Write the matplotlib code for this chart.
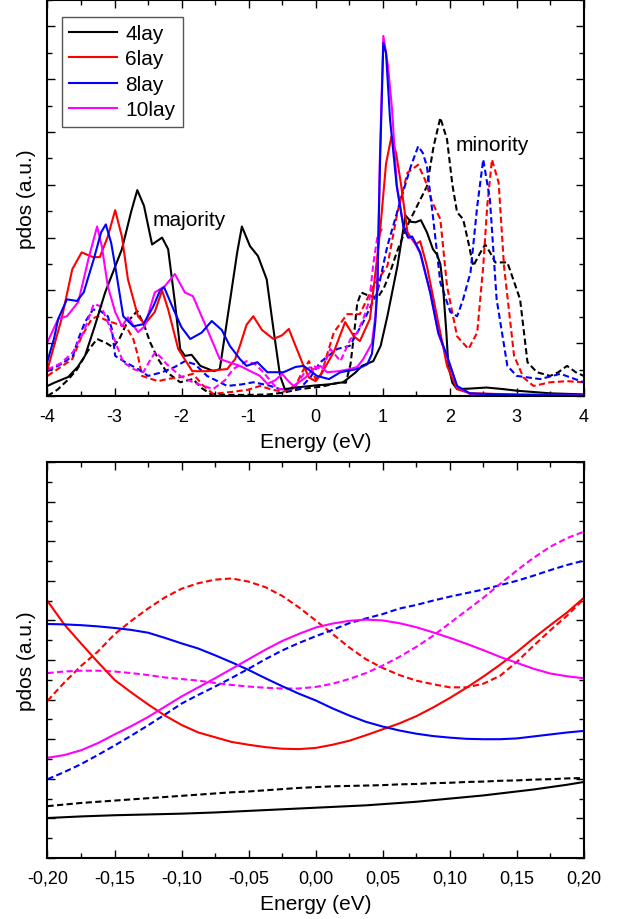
import numpy as np
import matplotlib
matplotlib.use("Agg")
import matplotlib.pyplot as plt
from matplotlib.ticker import MultipleLocator, FixedLocator

plt.rcParams['font.family'] = ['Liberation Sans', 'DejaVu Sans']

# --- full range pdos (majority = solid, minority = dashed) ---
e_4_maj = [-4.0, -3.9, -3.69, -3.55, -3.44, -3.3, -3.14, -2.89, -2.75, -2.66, -2.56, -2.44, -2.29, -2.2, -2.1,
           -2.02, -1.95, -1.85, -1.72, -1.52, -1.43, -1.28, -1.17, -1.10, -0.98, -0.86, -0.73, -0.63, -0.53,
           -0.46, -0.3, 0.0, 0.2, 0.41, 0.6, 0.69, 0.86, 0.97, 1.07, 1.22, 1.34, 1.42, 1.49, 1.57, 1.66, 1.75,
           1.81, 1.86, 1.90, 1.95, 1.98, 2.04, 2.11, 2.3, 2.55, 2.8, 3.0, 3.5, 4.0]
v_4_maj = [0.19, 0.25, 0.36, 0.55, 0.76, 1.3, 1.96, 2.78, 3.5, 3.9, 3.6, 2.87, 3.0, 2.78, 1.78,
           0.89, 0.76, 0.78, 0.57, 0.47, 0.51, 1.78, 2.72, 3.21, 2.84, 2.65, 2.21, 1.27, 0.38,
           0.13, 0.16, 0.2, 0.22, 0.26, 0.45, 0.57, 0.66, 0.95, 1.51, 2.46, 3.42, 3.3, 3.29, 3.33, 3.1, 2.78,
           2.68, 2.5, 2.08, 1.2, 0.57, 0.25, 0.13, 0.14, 0.16, 0.13, 0.1, 0.05, 0.03]

e_4_min = [-4.0, -3.85, -3.7, -3.56, -3.4, -3.26, -3.12, -3.02, -2.92, -2.81, -2.66, -2.56, -2.47, -2.35, -2.22,
           -2.02, -1.83, -1.7, -1.57, -1.3, -1.0, -0.7, -0.5, -0.23, 0.1, 0.37, 0.45, 0.52, 0.57, 0.62, 0.68,
           0.81, 0.93, 1.02, 1.11, 1.21, 1.36, 1.51, 1.66, 1.76, 1.86, 1.96, 2.04, 2.11, 2.2, 2.28, 2.35, 2.45,
           2.53, 2.61, 2.68, 2.86, 2.95, 3.05, 3.16, 3.3, 3.5, 3.62, 3.75, 3.88, 4.0]
v_4_min = [0.0, 0.12, 0.3, 0.5, 0.85, 1.08, 1.0, 0.92, 1.1, 1.4, 1.61, 1.35, 1.02, 0.7, 0.45,
           0.26, 0.32, 0.15, 0.04, 0.02, 0.02, 0.03, 0.06, 0.13, 0.18, 0.26, 0.25, 0.6, 1.13, 1.75, 1.96,
           1.89, 1.87, 2.05, 2.34, 2.72, 3.21, 3.59, 3.97, 4.73, 5.27, 4.86, 4.0, 3.48, 3.35, 2.9, 2.46, 2.7,
           2.87, 2.7, 2.53, 2.53, 2.2, 1.83, 0.64, 0.45, 0.38, 0.45, 0.57, 0.45, 0.38]

e_6_maj = [-4.0, -3.79, -3.63, -3.49, -3.32, -3.22, -3.1, -2.99, -2.89, -2.8, -2.65, -2.55, -2.4, -2.29, -2.2,
           -2.05, -1.84, -1.62, -1.32, -1.2, -1.13, -1.03, -0.93, -0.8, -0.63, -0.5, -0.40, -0.3, -0.18, -0.1,
           0.0, 0.1, 0.27, 0.44, 0.57, 0.66, 0.81, 0.88, 0.96, 1.05, 1.13, 1.2, 1.27, 1.37, 1.49, 1.56, 1.66,
           1.81, 1.96, 2.11, 2.3, 3.0, 4.0]
v_6_maj = [0.5, 1.46, 2.4, 2.72, 2.63, 2.63, 3.02, 3.52, 3.02, 2.21, 1.51, 1.36, 1.59, 2.0, 1.64,
           0.89, 0.47, 0.47, 0.51, 0.7, 0.95, 1.35, 1.51, 1.25, 1.08, 1.15, 1.27, 0.95, 0.57, 0.35,
           0.28, 0.45, 0.83, 1.4, 1.13, 1.04, 1.46, 2.2, 3.1, 4.4, 4.91, 4.6, 4.04, 3.1, 2.87, 2.93, 2.46,
           1.51, 0.57, 0.13, 0.05, 0.03, 0.02]

e_6_min = [-4.0, -3.8, -3.63, -3.49, -3.34, -3.25, -3.1, -2.95, -2.82, -2.72, -2.65, -2.59, -2.35, -2.22,
           -2.0, -1.83, -1.68, -1.53, -1.23, -1.0, -0.83, -0.65, -0.48, -0.3, -0.18, -0.1, 0.0, 0.08, 0.27,
           0.47, 0.66, 0.86, 1.07, 1.22, 1.37, 1.53, 1.63, 1.74, 1.86, 1.96, 2.11, 2.28, 2.41, 2.5, 2.56, 2.63,
           2.73, 2.81, 2.96, 3.1, 3.25, 3.5, 3.75, 4.0]
v_6_min = [0.38, 0.55, 0.70, 1.13, 1.46, 1.51, 1.42, 1.36, 1.3, 1.08, 0.76, 0.38, 0.28, 0.32,
           0.36, 0.42, 0.2, 0.04, 0.08, 0.12, 0.19, 0.12, 0.08, 0.2, 0.5, 0.66, 0.32, 0.4, 1.2,
           1.55, 1.55, 2.08, 2.46, 3.48, 4.23, 4.38, 4.1, 3.67, 3.35, 2.08, 1.13, 0.89, 1.2, 2.46, 3.6, 4.48,
           4.04, 2.46, 0.76, 0.35, 0.19, 0.26, 0.28, 0.26]

e_8_maj = [-4.0, -3.9, -3.84, -3.71, -3.56, -3.46, -3.31, -3.2, -3.13, -3.05, -2.99, -2.87, -2.72, -2.57,
           -2.42, -2.32, -2.26, -2.12, -2.0, -1.87, -1.7, -1.55, -1.4, -1.28, -1.13, -1.03, -0.87, -0.72,
           -0.48, -0.3, -0.18, 0.02, 0.2, 0.37, 0.62, 0.77, 0.84, 0.89, 0.92, 0.96, 1.01, 1.05, 1.11, 1.21,
           1.31, 1.38, 1.44, 1.56, 1.71, 1.83, 1.96, 2.11, 2.3, 3.0, 4.0]
v_8_maj = [0.66, 1.1, 1.46, 1.83, 1.8, 1.96, 2.59, 3.1, 3.25, 2.9, 2.46, 1.51, 1.32, 1.36,
           1.7, 2.0, 2.06, 1.64, 1.3, 1.08, 1.2, 1.42, 1.25, 0.95, 0.7, 0.57, 0.64, 0.45,
           0.45, 0.55, 0.57, 0.38, 0.32, 0.45, 0.51, 0.6, 0.8, 1.4, 2.0, 4.4, 6.69, 6.5, 5.24, 3.97,
           3.21, 3.0, 3.02, 2.72, 1.96, 1.2, 0.76, 0.19, 0.05, 0.02, 0.01]

e_8_min = [-4.0, -3.8, -3.62, -3.54, -3.44, -3.32, -3.2, -3.1, -3.04, -2.99, -2.84, -2.65, -2.5, -2.29,
           -2.1, -1.95, -1.8, -1.62, -1.32, -1.1, -0.93, -0.7, -0.53, -0.35, -0.23, -0.08, 0.07, 0.32, 0.51,
           0.71, 0.92, 1.07, 1.27, 1.42, 1.53, 1.6, 1.66, 1.75, 1.86, 2.01, 2.11, 2.2, 2.31, 2.41, 2.5, 2.6,
           2.7, 2.86, 3.0, 3.35, 3.65, 4.0]
v_8_min = [0.47, 0.6, 0.76, 1.08, 1.4, 1.64, 1.6, 1.51, 1.27, 0.76, 0.64, 0.51, 0.38, 0.45,
           0.55, 0.66, 0.6, 0.38, 0.19, 0.22, 0.26, 0.2, 0.13, 0.12, 0.15, 0.35, 0.64, 0.89, 0.95,
           1.4, 1.96, 2.84, 3.72, 4.35, 4.73, 4.6, 4.35, 3.4, 2.15, 1.59, 1.51, 1.83, 2.34, 3.59, 4.48, 3.72,
           1.83, 0.57, 0.38, 0.32, 0.42, 0.26]

e_10_maj = [-4.0, -3.84, -3.71, -3.54, -3.39, -3.26, -3.19, -3.1, -2.99, -2.89, -2.8, -2.65, -2.55, -2.4,
            -2.25, -2.1, -1.95, -1.83, -1.62, -1.43, -1.13, -0.83, -0.72, -0.6, -0.50, -0.42, -0.33, -0.15,
            -0.03, 0.07, 0.17, 0.35, 0.51, 0.62, 0.71, 0.84, 0.89, 0.92, 0.96, 1.01, 1.08, 1.14, 1.21, 1.31,
            1.38, 1.44, 1.56, 1.71, 1.83, 1.96, 2.11, 2.3, 3.0, 4.0]
v_10_maj = [1.02, 1.46, 1.51, 1.78, 2.59, 3.21, 2.84, 2.08, 1.59, 1.32, 1.49, 1.21, 1.32, 1.96,
            2.08, 2.31, 1.96, 1.89, 1.27, 0.70, 0.57, 0.38, 0.23, 0.3, 0.42, 0.3, 0.19, 0.35,
            0.51, 0.57, 0.45, 0.47, 0.51, 0.55, 0.7, 1.0, 1.5, 2.1, 4.6, 6.82, 6.24, 5.43, 4.0, 3.2,
            3.0, 3.0, 2.7, 1.95, 1.18, 0.74, 0.18, 0.04, 0.02, 0.01]

e_10_min = [-4.0, -3.8, -3.62, -3.46, -3.31, -3.2, -3.1, -3.02, -2.87, -2.72, -2.57, -2.46, -2.39, -2.3,
            -2.22, -2.02, -1.83, -1.53, -1.35, -1.23, -1.03, -0.9, -0.78, -0.57, -0.33, -0.13, -0.04, 0.1,
            0.22, 0.37, 0.52, 0.62, 0.71, 0.8, 0.86, 0.92, 1.0]
v_10_min = [0.5, 0.62, 0.83, 1.21, 1.74, 1.7, 1.4, 1.13, 0.64, 0.51, 0.45, 0.7, 0.83, 0.72,
            0.6, 0.38, 0.26, 0.13, 0.3, 0.51, 0.66, 0.6, 0.45, 0.13, 0.13, 0.51, 0.57, 0.5,
            0.89, 0.66, 1.08, 1.2, 1.46, 1.8, 2.5, 3.0, 3.19]

# --- zoom around the Fermi level ---
e_zoom = [-0.2, -0.1875, -0.175, -0.1625, -0.15, -0.1375, -0.125, -0.1125, -0.1, -0.0875, -0.075,
          -0.0625, -0.05, -0.0375, -0.025, -0.0125, 0.0, 0.0125, 0.025, 0.0375, 0.05, 0.0625, 0.075,
          0.0875, 0.1, 0.1125, 0.125, 0.1375, 0.15, 0.1625, 0.175, 0.1875, 0.2]
z_4_maj = [1.01, 1.03, 1.05, 1.065, 1.08, 1.09, 1.1, 1.11, 1.12, 1.135, 1.15, 1.17, 1.19, 1.21, 1.23, 1.25,
           1.27, 1.29, 1.31, 1.33, 1.36, 1.39, 1.42, 1.46, 1.5, 1.54, 1.58, 1.63, 1.68, 1.73, 1.79, 1.85, 1.92]
z_4_min = [1.31, 1.35, 1.39, 1.42, 1.45, 1.48, 1.51, 1.54, 1.57, 1.6, 1.63, 1.66, 1.68, 1.71, 1.74, 1.77,
           1.79, 1.81, 1.82, 1.83, 1.84, 1.86, 1.87, 1.89, 1.9, 1.92, 1.93, 1.95, 1.96, 1.98, 1.99, 2.01, 2.02]
z_6_maj = [6.49, 5.9, 5.42, 4.95, 4.5, 4.18, 3.88, 3.6, 3.36, 3.17, 3.05, 2.93, 2.86, 2.8, 2.76, 2.75,
           2.78, 2.86, 2.96, 3.1, 3.25, 3.4, 3.58, 3.8, 4.04, 4.3, 4.58, 4.88, 5.2, 5.55, 5.88, 6.2, 6.57]
z_6_min = [3.97, 4.43, 4.85, 5.21, 5.65, 5.99, 6.3, 6.58, 6.8, 6.94, 7.03, 7.06, 6.98, 6.84, 6.62, 6.33,
           6.0, 5.66, 5.32, 5.02, 4.8, 4.62, 4.48, 4.39, 4.31, 4.31, 4.4, 4.6, 4.95, 5.36, 5.75, 6.12, 6.54]
z_8_maj = [5.91, 5.9, 5.88, 5.85, 5.81, 5.76, 5.69, 5.56, 5.42, 5.29, 5.12, 4.94, 4.75, 4.54, 4.34, 4.15,
           3.98, 3.78, 3.6, 3.44, 3.32, 3.22, 3.14, 3.08, 3.04, 3.01, 3.0, 3.0, 3.02, 3.07, 3.12, 3.17, 3.21]
z_8_min = [1.99, 2.17, 2.37, 2.6, 2.84, 3.09, 3.35, 3.62, 3.9, 4.12, 4.33, 4.55, 4.78, 5.02, 5.24, 5.43,
           5.6, 5.76, 5.93, 6.05, 6.16, 6.3, 6.39, 6.5, 6.6, 6.69, 6.78, 6.89, 7.0, 7.13, 7.27, 7.4, 7.51]
z_10_maj = [2.53, 2.6, 2.72, 2.9, 3.12, 3.33, 3.56, 3.82, 4.08, 4.31, 4.54, 4.78, 5.02, 5.26, 5.48, 5.66,
            5.82, 5.92, 5.99, 6.02, 6.0, 5.93, 5.83, 5.7, 5.56, 5.41, 5.25, 5.08, 4.93, 4.78, 4.66, 4.59, 4.54]
z_10_min = [4.67, 4.71, 4.73, 4.73, 4.71, 4.67, 4.62, 4.56, 4.52, 4.48, 4.42, 4.37, 4.33, 4.3, 4.28, 4.28,
            4.32, 4.4, 4.52, 4.67, 4.86, 5.08, 5.33, 5.61, 5.93, 6.25, 6.57, 6.92, 7.26, 7.58, 7.86, 8.08, 8.24]

labels = ['4lay', '6lay', '8lay', '10lay']
colors = ['black', '#ff0000', '#0000ff', '#ff00ff']
top_xticks = [-4, -3, -2, -1, 0, 1, 2, 3, 4]
bottom_xticks = [-0.2, -0.15, -0.1, -0.05, 0.0, 0.05, 0.1, 0.15, 0.2]
bottom_xticklabels = ['-0,20', '-0,15', '-0,10', '-0,05', '0,00', '0,05', '0,10', '0,15', '0,20']

full_maj = [(e_4_maj, v_4_maj), (e_6_maj, v_6_maj), (e_8_maj, v_8_maj), (e_10_maj, v_10_maj)]
full_min = [(e_4_min, v_4_min), (e_6_min, v_6_min), (e_8_min, v_8_min), (e_10_min, v_10_min)]
zoom_maj = [z_4_maj, z_6_maj, z_8_maj, z_10_maj]
zoom_min = [z_4_min, z_6_min, z_8_min, z_10_min]

LW = 1.5
DASH = (0, (3.0, 1.6))

fig = plt.figure(figsize=(6.28, 9.2), dpi=100)
ax1 = fig.add_axes([0.0756, 0.5685, 0.854, 0.4304])
ax2 = fig.add_axes([0.0756, 0.0663, 0.854, 0.4304])


def style_axes(ax):
    ax.tick_params(which='both', direction='in', top=True, right=True,
                   labelleft=False, labelsize=13, pad=8.5, width=1.0)
    ax.tick_params(which='major', length=6)
    ax.tick_params(which='minor', length=3.5)
    for sp in ax.spines.values():
        sp.set_linewidth(1.5)
    ax.set_xlabel('Energy (eV)', fontsize=15, labelpad=5)
    ax.set_ylabel('pdos (a.u.)', fontsize=15, labelpad=8)


# top panel: full energy window
for (e, v), c in zip(full_min, colors):
    ax1.plot(e, v, color=c, lw=LW, ls=DASH)
order = [0, 1, 3, 2]  # 8lay drawn over 10lay past the peak
handles = {}
for i in order:
    e, v = full_maj[i]
    handles[i], = ax1.plot(e, v, color=colors[i], lw=LW, label=labels[i],
                           solid_joinstyle='round')

ax1.set_xlim(-4, 4)
ax1.set_ylim(0, 7.5)
ax1.xaxis.set_major_locator(FixedLocator(top_xticks))
ax1.xaxis.set_minor_locator(MultipleLocator(0.5))
ax1.yaxis.set_major_locator(MultipleLocator(1))
ax1.yaxis.set_minor_locator(MultipleLocator(0.5))
ax1.set_xticklabels([str(t) for t in top_xticks])
style_axes(ax1)

leg = ax1.legend([handles[i] for i in range(4)], labels, loc='upper left',
                 bbox_to_anchor=(0.027, 0.958), borderaxespad=0, fontsize=15,
                 handlelength=2.3, handletextpad=0.4, labelspacing=0.31,
                 fancybox=False, framealpha=1, edgecolor='#555555',
                 borderpad=0.35)
leg.get_frame().set_linewidth(1.0)

ax1.text(-2.43, 3.35, 'majority', fontsize=15, va='center', ha='left')
ax1.text(2.08, 4.76, 'minority', fontsize=15, va='center', ha='left')

# bottom panel: zoom around E_F
for z, c in zip(zoom_min, colors):
    ax2.plot(e_zoom, z, color=c, lw=LW, ls=DASH)
for z, c in zip(zoom_maj, colors):
    ax2.plot(e_zoom, z, color=c, lw=LW, solid_joinstyle='round')

ax2.set_xlim(-0.2, 0.2)
ax2.set_ylim(0, 10)
ax2.xaxis.set_major_locator(FixedLocator(bottom_xticks))
ax2.xaxis.set_minor_locator(MultipleLocator(0.025))
ax2.yaxis.set_major_locator(MultipleLocator(1))
ax2.yaxis.set_minor_locator(MultipleLocator(0.5))
ax2.set_xticklabels(bottom_xticklabels)
style_axes(ax2)

fig.savefig('out.png', dpi=100)
